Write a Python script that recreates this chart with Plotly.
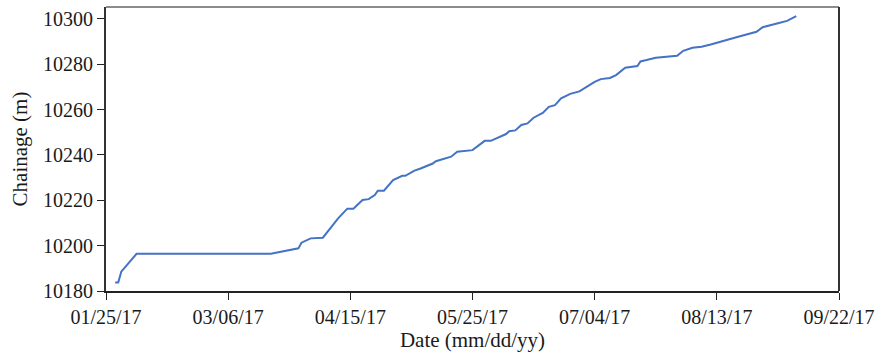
import plotly.graph_objects as go

# Survey dates and measured chainage of the tunnel face
dates = [
    "2017-01-28", "2017-01-29", "2017-01-30", "2017-02-04", "2017-03-20",
    "2017-03-29", "2017-03-30", "2017-04-02", "2017-04-06", "2017-04-11",
    "2017-04-14", "2017-04-16", "2017-04-19", "2017-04-21", "2017-04-23",
    "2017-04-24", "2017-04-26", "2017-04-29", "2017-05-02", "2017-05-03",
    "2017-05-06", "2017-05-08", "2017-05-12", "2017-05-13", "2017-05-18",
    "2017-05-20", "2017-05-25", "2017-05-27", "2017-05-29", "2017-05-31",
    "2017-06-03", "2017-06-05", "2017-06-06", "2017-06-08", "2017-06-10",
    "2017-06-12", "2017-06-14", "2017-06-17", "2017-06-19", "2017-06-21",
    "2017-06-23", "2017-06-26", "2017-06-29", "2017-07-04", "2017-07-06",
    "2017-07-09", "2017-07-11", "2017-07-14", "2017-07-18", "2017-07-19",
    "2017-07-21", "2017-07-24", "2017-07-31", "2017-08-02", "2017-08-05",
    "2017-08-08", "2017-08-11", "2017-08-14", "2017-08-16", "2017-08-20",
    "2017-08-26", "2017-08-28", "2017-09-02", "2017-09-05", "2017-09-08",
]
chainage = [
    10183.7, 10183.7, 10188.5, 10196.4, 10196.4,
    10198.8, 10201.3, 10203.2, 10203.5, 10212.0,
    10216.3, 10216.3, 10220.1, 10220.5, 10222.3,
    10224.2, 10224.2, 10228.9, 10230.8, 10230.8,
    10233.1, 10234.0, 10236.2, 10237.2, 10239.2,
    10241.4, 10242.1, 10244.3, 10246.2, 10246.2,
    10248.0, 10249.2, 10250.4, 10250.8, 10253.2,
    10253.9, 10256.4, 10258.5, 10261.2, 10261.9,
    10264.9, 10266.9, 10268.0, 10272.2, 10273.4,
    10273.9, 10275.2, 10278.4, 10279.2, 10281.2,
    10281.8, 10282.8, 10283.7, 10285.9, 10287.2,
    10287.7, 10288.7, 10289.9, 10290.8, 10292.1,
    10294.3, 10296.3, 10298.0, 10299.1, 10301.2,
]

x_ticks = ["2017-01-25", "2017-03-06", "2017-04-15", "2017-05-25",
           "2017-07-04", "2017-08-13", "2017-09-22"]
x_tick_text = ["01/25/17", "03/06/17", "04/15/17", "05/25/17",
               "07/04/17", "08/13/17", "09/22/17"]
y_ticks = [10180, 10200, 10220, 10240, 10260, 10280, 10300]

serif = "Liberation Serif"

fig = go.Figure(go.Scatter(
    x=dates, y=chainage, mode="lines",
    line=dict(color="#4472C4", width=2),
    showlegend=False,
))

fig.update_layout(
    width=882, height=360,
    margin=dict(l=106, r=40, t=7, b=69),
    paper_bgcolor="white", plot_bgcolor="white",
    font=dict(family=serif, color="#1a1a1a"),
    xaxis=dict(
        type="date", range=["2017-01-25", "2017-09-22"],
        tickvals=x_ticks, ticktext=x_tick_text,
        tickfont=dict(size=20, family=serif, color="#1a1a1a"),
        ticks="outside", ticklen=7, tickwidth=1, tickcolor="#222",
        showline=True, linecolor="#222", linewidth=1.5,
        showgrid=False, zeroline=False,
        title=dict(text="Date (mm/dd/yy)",
                   font=dict(size=21, family=serif, color="#1a1a1a"), standoff=6),
    ),
    yaxis=dict(
        range=[10180, 10305.2], tickvals=y_ticks, tickformat="d",
        tickfont=dict(size=20, family=serif, color="#1a1a1a"),
        ticks="outside", ticklen=7, tickwidth=1, tickcolor="#222",
        showline=True, linecolor="#333", linewidth=2,
        showgrid=False, zeroline=False,
        title=dict(text="Chainage (m)",
                   font=dict(size=21, family=serif, color="#1a1a1a"), standoff=10),
    ),
    shapes=[
        dict(type="line", xref="paper", yref="paper", x0=0, x1=1, y0=1, y1=1,
             line=dict(color="#8c8c8c", width=2)),
        dict(type="line", xref="paper", yref="paper", x0=1, x1=1, y0=0, y1=1,
             line=dict(color="#333", width=2)),
    ],
)

fig.write_html("out.html")
